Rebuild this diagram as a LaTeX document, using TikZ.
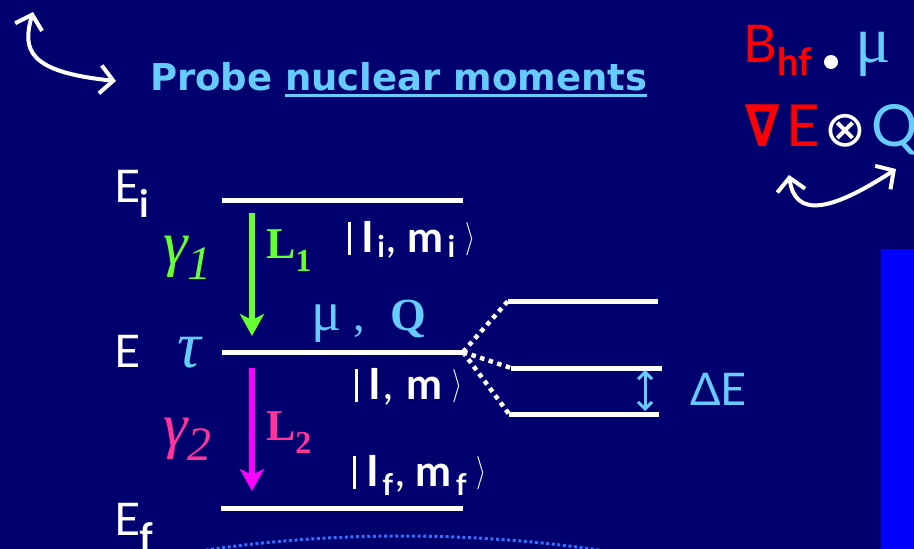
\documentclass[tikz,border=0pt]{standalone}
\usepackage{fontspec}
\setmainfont{Liberation Serif}
\newfontfamily\lat{Lato}
\newfontfamily\dv{DejaVu Sans}
\newfontfamily\tms{Liberation Serif}
\usetikzlibrary{arrows.meta,calc}
\newcommand\fsz[1]{\fontsize{#1}{#1}\selectfont}
\newcommand\kbar{\rule[-3pt]{2.6pt}{33pt}}
\newcommand\kang{\raisebox{5pt}{\scalebox{1.25}[1.6]{\fsz{20}$\rangle$}}}
\newcommand\ksub[2]{\raisebox{#1}{\bfseries\fsz{30}#2}}
\definecolor{bg}{HTML}{00006E}
\definecolor{lblue}{HTML}{66CCFF}
\definecolor{lgreen}{HTML}{66FF33}
\definecolor{pinkc}{HTML}{FF3399}
\definecolor{magc}{HTML}{FF00FF}
\definecolor{bblue}{HTML}{0000FF}
\definecolor{arcblue}{HTML}{3070FF}
\begin{document}
\begin{tikzpicture}[x=1pt,y=-1pt,
  level/.style={white, line width=5pt},
  dotl/.style={white, line width=4.5pt, dash pattern=on 4.5pt off 4.5pt},
  lbl/.style={inner sep=0pt, outer sep=0pt, anchor=base west},
  curly/.style={white, line width=4pt, line cap=round,
    {Straight Barb[length=13pt,width=28pt]}-{Straight Barb[length=13pt,width=28pt]}},
  trans/.style={line width=6pt, -{Stealth[length=22pt,width=24pt,inset=6pt]}},
  ket/.style={lbl, white, font=\lat\fsz{43}},
]
\fill[bg] (0,0) rectangle (914,549);
\useasboundingbox (0,0) rectangle (914,549);
% blue bar at right
\node[fill=bblue, inner sep=0, outer sep=0, minimum width=33pt, minimum height=300pt, anchor=north west] (bar) at (881,249) {};
% dotted arc at bottom
\coordinate (arcL) at (200,551);
\coordinate (arcR) at (605,551);
\draw[arcblue, line width=3pt, dash pattern=on 3pt off 2.6pt] (arcL) .. controls (330,531) and (475,531) .. (arcR);

% top-left curly arrow
\coordinate (tl1) at (33,12);
\coordinate (tl2) at (116,81);
\draw[curly] (tl1) .. controls (22,50) and (28,72) .. (tl2);
% probe text
\node[lbl, lblue, font=\dv\bfseries\fsz{37}] (probe) at (150,90) {Probe};
\node[lbl, lblue, font=\dv\bfseries\fsz{37}] (nucl) at (285,90) {nuclear moments};
\draw[lblue, line width=3pt] ([yshift=-5pt]nucl.base west) -- ([yshift=-5pt]nucl.base east);

% top right formula
\node[lbl, red, font=\lat\fsz{52}] (B) at (743,62) {B};
\node[lbl, red, font=\lat\bfseries\fsz{38}] (hf) at (777,75) {hf};
\node[circle, fill=white, inner sep=0pt, minimum size=14pt] (bul) at (831,62) {};
\node[lbl, lblue, font=\tms\fsz{66}] (mu) at (855,62) {μ};
\node[lbl, red, font=\dv\bfseries\fsz{58}] (nabla) at (745,146) {\scalebox{0.85}[1]{∇}};
\node[lbl, red, font=\lat\fsz{58}] (Er) at (786,146) {E};
\node[white, font=\dv\fsz{50}, inner sep=0pt] (otimes) at (845,131) {⊗};
\node[lbl, lblue, font=\lat\fsz{58}] (Qr) at (871,146) {Q};
% right curly arrow
\coordinate (tr1) at (789,175);
\coordinate (tr2) at (896,169);
\draw[curly] (tr1) .. controls (795,218) and (830,212) .. (tr2);

% energy levels
\coordinate (Li) at (222,200); \coordinate (Ri) at (463,200);
\coordinate (Lm) at (222,352); \coordinate (Rm) at (463,352);
\coordinate (Lf) at (221,508); \coordinate (Rf) at (463,508);
\draw[level] (Li) -- (Ri);
\draw[level] (Lm) -- (Rm);
\draw[level] (Lf) -- (Rf);
% split levels
\coordinate (S1l) at (508,301); \coordinate (S1r) at (658,301);
\coordinate (S2l) at (511,368); \coordinate (S2r) at (662,368);
\coordinate (S3l) at (509,414); \coordinate (S3r) at (659,414);
\draw[level] (S1l) -- (S1r);
\draw[level] (S2l) -- (S2r);
\draw[level] (S3l) -- (S3r);
\draw[dotl] (Rm) -- (S1l);
\draw[dotl] (Rm) -- (S2l);
\draw[dotl] (Rm) -- (S3l);
% Delta E arrow
\coordinate (dA) at (645,370);
\coordinate (dB) at (645,411);
\draw[lblue, line width=3pt, {Straight Barb[length=7pt,width=14pt]}-{Straight Barb[length=7pt,width=14pt]}] (dA) -- (dB);
\node[lbl, lblue, font=\lat\fsz{45}] (dE) at (690,405) {ΔE};

% transitions
\coordinate (g1a) at (252,213); \coordinate (g1b) at (252,336);
\coordinate (g2a) at (252,368); \coordinate (g2b) at (252,491);
\draw[trans, lgreen] (g1a) -- (g1b);
\draw[trans, magc] (g2a) -- (g2b);

% level labels
\node[lbl, white, font=\lat\fsz{45}] (Ei) at (114,202) {E\raisebox{-15pt}{\bfseries\fsz{38}i}};
\node[lbl, white, font=\lat\fsz{45}] (Em) at (114,367) {E};
\node[lbl, white, font=\lat\fsz{45}] (Ef) at (114,535) {E\raisebox{-15pt}{\bfseries\fsz{38}f}};
\node[lbl, lgreen, font=\tms\itshape\fsz{62}] (g1) at (163,264) {γ\raisebox{-15pt}{\fsz{48}1}};
\node[lbl, pinkc, font=\tms\itshape\fsz{62}] (g2) at (163,446) {γ\raisebox{-14pt}{\fsz{48}2}};
\node[lbl, lblue, font=\tms\itshape\fsz{66}] (tau) at (177,367) {τ};
\node[lbl, lgreen, font=\tms\bfseries\fsz{44}] (L1) at (266,258) {L\raisebox{-13pt}{\fsz{32}1}};
\node[lbl, pinkc, font=\tms\bfseries\fsz{44}] (L2) at (266,440) {L\raisebox{-13pt}{\fsz{32}2}};
\node[lbl, lblue, font=\tms\fsz{56}] (muQ) at (311,330) {μ\hspace{12pt}{\fsz{46},}\hspace{26pt}{\fsz{46}\bfseries Q}};
% kets
\node[ket] (keti) at (348,252) {\kbar\hspace{11pt}\textbf{I}\hspace{3pt}\ksub{-5pt}{i}\hspace{2pt},\hspace{11pt}\textbf{m}\hspace{4pt}\ksub{-5pt}{i}\hspace{10pt}\kang};
\node[ket] (ketm) at (355,399) {\kbar\hspace{11pt}\textbf{I}\hspace{2pt},\hspace{13pt}\textbf{m}\hspace{10pt}\kang};
\node[ket] (ketf) at (353,486) {\kbar\hspace{11pt}\textbf{I}\hspace{3pt}\ksub{-9pt}{f}\hspace{2pt},\hspace{11pt}\textbf{m}\hspace{4pt}\ksub{-9pt}{f}\hspace{10pt}\kang};
\end{tikzpicture}
\end{document}
